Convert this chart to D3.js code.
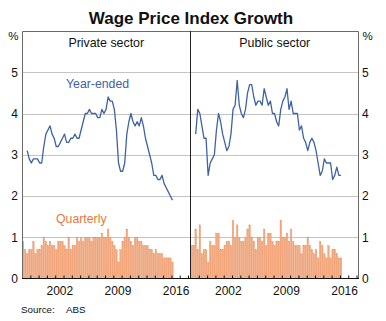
<!DOCTYPE html>
<html>
<head>
<meta charset="utf-8">
<script src="https://cdn.jsdelivr.net/npm/d3@7"></script>
<style>
  body { margin: 0; background: #fff; }
  svg { display: block; }
  text { font-family: "Liberation Sans", Arial, Helvetica, sans-serif; fill: #111; }
</style>
</head>
<body>
<svg id="chart" width="386" height="321"></svg>
<script>
// Wage Price Index growth, per cent
const panelTitles = ["Private sector", "Public sector"];
const firstQuarterly = 1998.125;   // March quarter 1998 (mid-quarter)
const firstYearEnded = 1998.625;   // September quarter 1998 (mid-quarter)

const privateQuarterly = [
  0.9, 0.7, 0.6, 0.7, 0.7, 0.9, 0.6, 0.7, 0.7, 0.8,
  1.0, 0.9, 0.8, 0.9, 0.8, 0.8, 0.7, 0.9, 0.9, 0.9, 0.8, 0.7, 1.0,
  0.7, 0.8, 0.8, 1.0, 0.9, 1.0, 0.9, 1.0, 1.0, 1.0, 0.9, 1.0, 1.0, 1.0, 1.0, 1.1, 1.0, 1.0,
  1.2, 1.0, 0.9, 0.8, 0.7, 0.4, 0.7, 0.9, 1.0, 1.2,
  1.0, 0.9, 0.8, 1.0, 1.0, 0.9, 0.9, 0.8, 0.8, 0.8, 0.7, 0.7, 0.6, 0.7, 0.6, 0.6, 0.6, 0.5, 0.5, 0.5, 0.5, 0.4
];
const publicQuarterly = [
  0.8, 0.8, 1.2, 0.7, 1.3, 0.6, 0.7, 0.7, 0.4, 0.9,
  0.8, 0.8, 1.1, 1.1, 0.7, 0.7, 0.8, 0.9, 0.9, 0.8,
  1.4, 1.0, 1.3, 1.0, 0.9, 0.9, 1.0, 1.2, 1.3, 1.0,
  0.9, 0.7, 1.0, 1.0, 0.9, 1.2, 0.8, 1.1, 1.1, 0.9,
  0.8, 0.9, 0.9, 1.4, 1.0, 1.0, 1.1, 0.9, 1.2, 0.9,
  0.8, 0.8, 0.8, 0.6, 0.8, 0.8, 1.0, 0.8, 0.7, 0.6,
  0.7, 0.5, 0.9, 0.8, 0.6, 0.5, 0.8, 0.5, 0.7, 0.7,
  0.6, 0.5, 0.5
];
const privateYearEnded = [
  3.1, 2.9, 2.8, 2.9, 2.9, 2.9, 2.8, 2.8, 3.2, 3.5,
  3.6, 3.7, 3.5, 3.4, 3.2, 3.2, 3.3, 3.4, 3.5, 3.3,
  3.3, 3.4, 3.4, 3.5, 3.4, 3.4, 3.6, 3.8, 4.0, 4.0,
  4.1, 4.0, 4.0, 4.0, 3.9, 3.9, 4.1, 4.0, 4.1, 4.4,
  4.3, 4.3, 4.1, 3.6, 2.8, 2.6, 2.6, 2.8, 3.5, 3.8,
  4.0, 3.8, 3.7, 3.8, 3.7, 3.9, 3.7, 3.4, 3.2, 3.0,
  2.8, 2.5, 2.5, 2.4, 2.4, 2.5, 2.3, 2.2, 2.1, 2.0, 1.9
];
const publicYearEnded = [
  3.5, 4.1, 4.0, 3.7, 3.4, 3.4, 2.5, 2.8, 2.9, 3.0,
  3.6, 4.0, 3.8, 3.5, 3.3, 3.1, 3.2, 3.5, 4.1, 4.2,
  4.8, 4.2, 4.0, 3.9, 4.1, 4.5, 4.7, 4.7, 4.4, 4.2,
  4.3, 4.3, 4.2, 4.6, 4.4, 4.2, 4.3, 4.0, 4.0, 3.8,
  3.7, 4.1, 4.3, 4.4, 4.6, 4.1, 4.3, 4.0, 4.0, 4.0,
  3.6, 3.7, 3.4, 3.3, 3.1, 3.3, 3.4, 3.3, 3.1, 2.8,
  2.5, 2.6, 2.9, 2.8, 2.8, 2.8, 2.4, 2.5, 2.7, 2.5, 2.5
];
const yTicks = [0, 1, 2, 3, 4, 5];
const xLabels = [2002, 2009, 2016];
const yearTicks = d3.range(1999, 2019);

const blue = "#3e62a3";
const orange = "#e9773d";
const barFill = "#f4a97f";
const barStroke = "#e58a58";

const svg = d3.select("#chart");
const plotTop = 31, plotBottom = 278.5;
const panelX = [[22, 190.5], [190.5, 359]];
const y = d3.scaleLinear().domain([0, 6]).range([plotBottom, plotTop]);

const series = [
  { q: privateQuarterly, ye: privateYearEnded },
  { q: publicQuarterly, ye: publicYearEnded }
];

// Title
svg.append("text").attr("x", 191).attr("y", 23.5).attr("text-anchor", "middle")
  .style("font-size", "17px").style("font-weight", "bold").text("Wage Price Index Growth");

// Horizontal gridlines
svg.append("g").selectAll("line").data(yTicks.filter(d => d > 0)).join("line")
  .attr("x1", panelX[0][0]).attr("x2", panelX[1][1])
  .attr("y1", d => Math.round(y(d)) + 0.5).attr("y2", d => Math.round(y(d)) + 0.5)
  .attr("stroke", "#c4c4c4").attr("stroke-width", 1);

panelX.forEach((range, p) => {
  const x = d3.scaleLinear().domain([1998, 2018.3]).range(range);
  const clipId = "clip" + p;
  svg.append("clipPath").attr("id", clipId).append("rect")
    .attr("x", range[0]).attr("y", plotTop).attr("width", range[1] - range[0]).attr("height", plotBottom - plotTop);
  const g = svg.append("g").attr("clip-path", `url(#${clipId})`);
  const qw = x(1998.25) - x(1998);
  const bw = qw * 0.72;

  // Quarterly bars
  g.selectAll("rect.bar").data(series[p].q).join("rect").attr("class", "bar")
    .attr("x", (d, i) => x(firstQuarterly + 0.25 * i) - bw / 2)
    .attr("width", bw)
    .attr("y", d => y(d))
    .attr("height", d => y(0) - y(d))
    .attr("fill", barFill).attr("stroke", barStroke).attr("stroke-width", 0.35);

  // Year-ended line
  const line = d3.line()
    .x((d, i) => x(firstYearEnded + 0.25 * i))
    .y(d => y(d));
  g.append("path").datum(series[p].ye).attr("d", line)
    .attr("fill", "none").attr("stroke", blue).attr("stroke-width", 1.3)
    .attr("stroke-linejoin", "round");

  // Year ticks along the bottom axis
  svg.append("g").attr("transform", `translate(0,${plotBottom})`)
    .call(d3.axisBottom(x).tickValues(yearTicks).tickSize(-3).tickFormat(""))
    .call(a => a.select(".domain").remove())
    .call(a => a.selectAll("line").attr("stroke", "#111"));

  // Year labels, centred on each year
  svg.append("g").attr("transform", `translate(0,${plotBottom})`)
    .call(d3.axisBottom(x).tickValues(xLabels.map(v => v + 0.5)).tickSize(0).tickPadding(8)
      .tickFormat(d => String(Math.floor(d))))
    .call(a => a.select(".domain").remove())
    .call(a => a.selectAll("text").style("font-size", "12px").attr("fill", "#111"));

  // Panel title
  svg.append("text").attr("x", (range[0] + range[1]) / 2).attr("y", 46.5)
    .attr("text-anchor", "middle").style("font-size", "12.4px").text(panelTitles[p]);
});

// Y axes on both sides
const yFormat = d3.format("d");
svg.append("g").attr("transform", `translate(${panelX[0][0]},0)`)
  .call(d3.axisLeft(y).tickValues(yTicks).tickSize(0).tickPadding(4).tickFormat(yFormat))
  .call(a => a.select(".domain").remove())
  .call(a => a.selectAll("text").style("font-size", "12px").attr("fill", "#111"));
svg.append("g").attr("transform", `translate(${panelX[1][1]},0)`)
  .call(d3.axisRight(y).tickValues(yTicks).tickSize(0).tickPadding(3).tickFormat(yFormat))
  .call(a => a.select(".domain").remove())
  .call(a => a.selectAll("text").style("font-size", "12px").attr("fill", "#111"));
svg.append("text").attr("x", 18.5).attr("y", 40).attr("text-anchor", "end")
  .style("font-size", "11.5px").text("%");
svg.append("text").attr("x", 362.5).attr("y", 40).attr("text-anchor", "start")
  .style("font-size", "11.5px").text("%");

// Frame, panel divider and zero axis
svg.append("path")
  .attr("d", `M${panelX[0][0] + 0.5},${plotBottom} V${plotTop + 0.5} H${panelX[1][1] - 0.5} V${plotBottom}`)
  .attr("fill", "none").attr("stroke", "#6a6a6a").attr("stroke-width", 1);
svg.append("line").attr("x1", panelX[0][1]).attr("x2", panelX[0][1])
  .attr("y1", plotTop).attr("y2", plotBottom).attr("stroke", "#222").attr("stroke-width", 1);
svg.append("line").attr("x1", panelX[0][0]).attr("x2", panelX[1][1])
  .attr("y1", plotBottom).attr("y2", plotBottom).attr("stroke", "#111").attr("stroke-width", 1.2);

// Series labels
svg.append("text").attr("x", 66).attr("y", 88).style("font-size", "12.3px")
  .style("fill", blue).text("Year-ended");
svg.append("text").attr("x", 56).attr("y", 223).style("font-size", "12.3px")
  .style("fill", orange).text("Quarterly");

// Source note
svg.append("text").attr("x", 21).attr("y", 313).style("font-size", "9.8px").text("Source:");
svg.append("text").attr("x", 66).attr("y", 313).style("font-size", "9.8px").text("ABS");
</script>
</body>
</html>
